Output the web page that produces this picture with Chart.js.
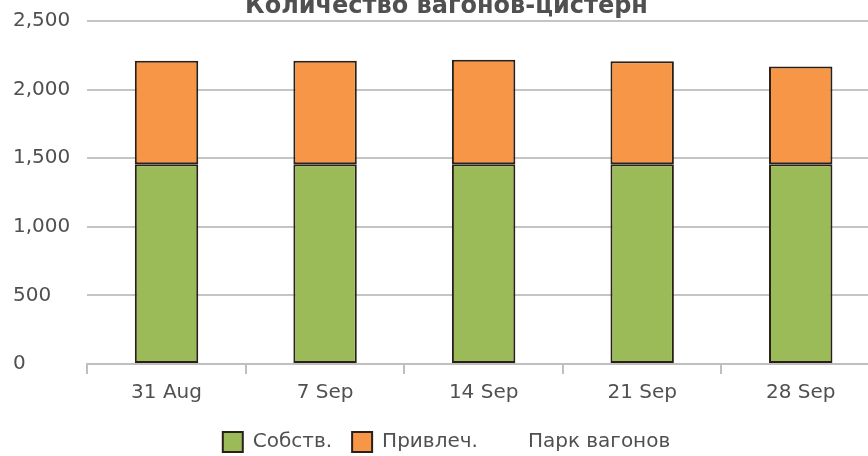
<!DOCTYPE html>
<html>
<head>
<meta charset="utf-8">
<script src="https://cdn.jsdelivr.net/npm/chart.js@4"></script>
<style>
  html, body { margin: 0; padding: 0; overflow: hidden; background: #fff; }
  #wrap { position: absolute; left: 0; top: -12px; width: 890px; height: 474px; }
</style>
</head>
<body>
<div id="wrap"><canvas id="wagonChart"></canvas></div>
<script>
// Данные графика
const weeks = ['31 Aug', '7 Sep', '14 Sep', '21 Sep', '28 Sep'];
const own = [1455, 1455, 1455, 1455, 1455];
const leased = [755, 755, 762, 751, 713];
const park = [2210, 2210, 2217, 2206, 2168];

const textColor = '#505050';
const font = 'DejaVu Sans';

const ctx = document.getElementById('wagonChart').getContext('2d');

const wagonChart = new Chart(ctx, {
    type: 'bar',
    data: {
        labels: weeks,
        datasets: [{
            label: 'Собств.',
            data: own,
            backgroundColor: '#9BBB59',
            borderColor: '#2a2018',
            borderWidth: 2,
            borderSkipped: false,
            stack: 'wagons'
        }, {
            label: 'Привлеч.',
            data: leased,
            backgroundColor: '#F79646',
            borderColor: '#2a2018',
            borderWidth: 2,
            borderSkipped: false,
            stack: 'wagons'
        }, {
            // общий парк — линия без отображения
            type: 'line',
            label: 'Парк вагонов',
            data: park,
            borderColor: 'rgba(0,0,0,0)',
            backgroundColor: 'rgba(0,0,0,0)',
            pointRadius: 0,
            showLine: false,
            stack: 'park'
        }]
    },
    options: {
        responsive: true,
        maintainAspectRatio: false,
        animation: false,
        layout: { padding: { left: 13, right: 10, top: 0, bottom: 0 } },
        datasets: {
            bar: { categoryPercentage: 1, barPercentage: 0.4 }
        },
        plugins: {
            title: {
                display: true,
                text: 'Количество вагонов-цистерн',
                color: textColor,
                font: { family: font, size: 24, weight: 'bold', lineHeight: 1 },
                padding: { top: 7, bottom: 2 }
            },
            legend: {
                position: 'bottom',
                labels: {
                    color: textColor,
                    font: { family: font, size: 20 },
                    boxWidth: 20,
                    boxHeight: 20,
                    padding: 20
                }
            },
            tooltip: { enabled: false }
        },
        scales: {
            x: {
                stacked: true,
                grid: {
                    offset: true,
                    drawOnChartArea: false,
                    color: '#BFBFBF',
                    lineWidth: 2,
                    tickLength: 10
                },
                border: { color: '#BFBFBF', width: 2 },
                ticks: {
                    color: textColor,
                    font: { family: font, size: 20 },
                    padding: 7
                }
            },
            y: {
                stacked: true,
                min: 0,
                max: 2500,
                grid: {
                    color: '#C4C4C4',
                    lineWidth: 2,
                    drawTicks: false
                },
                border: { display: false },
                ticks: {
                    stepSize: 500,
                    color: textColor,
                    font: { family: font, size: 20 },
                    crossAlign: 'far',
                    padding: 8.5
                }
            }
        }
    }
});
</script>
</body>
</html>
